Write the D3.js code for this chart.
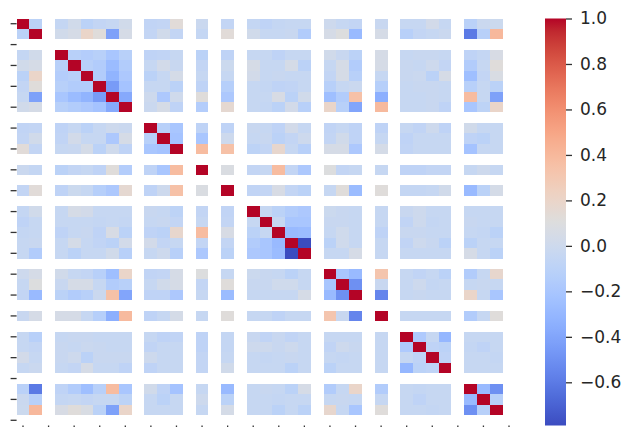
<!DOCTYPE html>
<html>
<head>
<meta charset="utf-8">
<script src="https://cdn.jsdelivr.net/npm/d3@7"></script>
<style>
  html, body { margin: 0; padding: 0; background: #fff; }
  svg { display: block; }
  text { font-family: "DejaVu Sans", sans-serif; }
</style>
</head>
<body>
<svg id="chart" width="624" height="427"></svg>
<script>
// Sizes of the variable groups; each group is followed by one blank separator row/column.
const groupSizes = [2, 6, 3, 1, 1, 5, 3, 1, 4, 3];

// Lower triangle of the correlation matrix (row i holds r(i, j) for j < i); diagonal is 1.
const corrLower = [
  [],
  [-0.10],
  [-0.05, 0.02],
  [0.02, 0.05, -0.12],
  [-0.10, 0.20, -0.14, -0.12],
  [-0.06, 0.12, -0.12, -0.15, -0.15],
  [-0.04, -0.42, -0.20, -0.27, -0.32, -0.45],
  [0.02, 0.05, -0.12, -0.15, -0.18, -0.22, -0.38],
  [-0.07, -0.06, -0.08, -0.04, -0.10, -0.04, 0.00, -0.02],
  [-0.06, 0.02, -0.07, 0.03, -0.04, -0.04, -0.18, 0.05, -0.12],
  [0.13, -0.06, -0.04, -0.03, 0.04, -0.10, 0.01, -0.08, -0.20, -0.22],
  [-0.02, -0.05, -0.10, -0.06, -0.04, -0.08, 0.12, -0.14, -0.08, -0.20, 0.38],
  [-0.06, 0.13, -0.08, -0.01, -0.04, -0.13, -0.18, 0.16, -0.08, 0.00, 0.35, 0.08],
  [-0.05, 0.02, -0.04, 0.05, 0.03, -0.04, -0.04, -0.04, -0.03, -0.04, -0.09, -0.06, -0.07],
  [-0.08, -0.04, -0.04, -0.04, -0.04, -0.05, -0.04, -0.05, -0.04, -0.03, -0.06, -0.04, -0.06, -0.04],
  [-0.05, -0.04, -0.08, -0.04, -0.03, -0.08, 0.06, -0.10, -0.08, -0.10, 0.18, 0.38, 0.06, -0.10, -0.04],
  [-0.04, -0.03, -0.04, 0.04, -0.04, -0.07, -0.10, 0.03, 0.03, -0.06, -0.04, -0.06, -0.06, -0.15, -0.20, -0.28],
  [-0.04, -0.15, -0.04, -0.10, -0.04, -0.04, 0.02, -0.12, -0.04, 0.00, -0.12, -0.18, -0.10, -0.18, -0.20, -0.27, -0.79],
  [0.00, 0.05, 0.02, -0.04, -0.06, -0.12, -0.25, 0.20, -0.07, -0.06, 0.05, 0.10, -0.04, -0.01, -0.03, -0.04, -0.10, -0.04],
  [-0.04, 0.10, -0.03, 0.05, 0.05, -0.04, -0.15, -0.12, -0.04, 0.02, 0.05, -0.06, 0.12, -0.03, -0.03, 0.01, 0.01, -0.04, -0.20],
  [-0.06, -0.28, -0.10, -0.15, -0.12, -0.02, 0.35, -0.40, -0.08, -0.08, -0.18, -0.04, -0.27, -0.04, -0.04, -0.04, -0.04, 0.05, -0.28, -0.50],
  [-0.03, 0.05, 0.05, 0.05, -0.04, -0.13, -0.35, 0.39, -0.08, -0.04, 0.04, -0.04, 0.12, -0.04, -0.04, -0.08, -0.04, -0.04, 0.32, -0.03, -0.55],
  [-0.04, -0.12, -0.04, -0.03, -0.03, -0.04, -0.04, -0.04, -0.04, -0.08, -0.07, -0.08, -0.05, -0.03, -0.07, -0.03, -0.07, -0.04, -0.04, -0.04, -0.04, -0.04],
  [-0.04, -0.06, -0.03, -0.04, -0.02, -0.03, -0.04, -0.04, -0.07, -0.04, -0.04, -0.08, -0.05, 0.00, 0.00, -0.03, 0.00, -0.04, -0.07, 0.00, -0.03, -0.04, -0.17],
  [0.03, -0.04, -0.03, 0.00, -0.10, -0.03, -0.03, -0.03, 0.00, -0.04, -0.04, -0.06, -0.04, -0.04, -0.05, -0.04, -0.03, -0.04, -0.04, -0.05, -0.04, -0.04, -0.04, -0.08],
  [-0.04, -0.02, -0.04, -0.06, 0.05, -0.04, -0.04, -0.08, -0.08, -0.04, -0.04, -0.06, 0.02, -0.04, -0.04, -0.04, -0.10, -0.04, -0.10, -0.04, -0.04, -0.04, -0.30, -0.10, -0.08],
  [-0.11, -0.60, -0.08, -0.15, -0.25, -0.12, 0.38, -0.20, 0.02, -0.08, -0.22, -0.04, -0.28, -0.04, -0.03, -0.04, -0.10, 0.05, -0.15, -0.04, 0.20, -0.15, -0.04, -0.05, -0.04, -0.04],
  [-0.02, -0.12, -0.05, -0.04, -0.06, -0.04, -0.04, -0.09, -0.04, -0.10, -0.04, 0.00, -0.10, -0.04, -0.04, -0.05, -0.04, -0.04, -0.04, -0.03, -0.04, -0.04, -0.04, -0.08, -0.04, -0.04, -0.28],
  [-0.01, 0.40, 0.06, 0.12, 0.07, -0.10, -0.42, 0.20, -0.04, -0.04, -0.04, -0.04, 0.04, -0.04, -0.04, -0.10, -0.04, -0.10, 0.18, -0.04, -0.20, 0.12, -0.04, -0.04, -0.05, -0.04, -0.50, -0.12]
];

// Colour bar tick values
const colorbarTicks = [-0.6, -0.4, -0.2, 0.0, 0.2, 0.4, 0.6, 0.8, 1.0];

// Moreland "cool-warm" diverging colour map control points
const coolwarmStops = [
  [59,76,192],[68,90,204],[77,104,215],[87,117,225],[98,130,234],[108,142,241],
  [119,154,247],[130,165,251],[141,176,254],[152,185,255],[163,194,255],[174,201,253],
  [184,208,249],[194,213,244],[204,217,238],[213,219,230],[221,221,221],[229,216,209],
  [236,211,197],[241,204,184],[245,196,172],[247,187,159],[247,177,147],[247,166,134],
  [244,154,123],[241,141,111],[236,127,99],[229,112,88],[222,96,77],[213,80,66],
  [203,62,56],[192,40,47],[180,4,38]
];

// ---- build the grid of slots (variables + blank separators) ----
const nVars = corrLower.length;
const varNames = d3.range(nVars).map(i => "v" + i);
const slotKeys = [];
{
  let v = 0;
  groupSizes.forEach((n, g) => {
    for (let k = 0; k < n; k++) slotKeys.push(varNames[v++]);
    slotKeys.push("gap" + g);
  });
}
const corr = (i, j) => i === j ? 1 : (i > j ? corrLower[i][j] : corrLower[j][i]);

const cells = [];
varNames.forEach((rv, i) => varNames.forEach((cv, j) => {
  cells.push({ row: rv, col: cv, value: corr(i, j) });
}));

// ---- layout ----
const svg = d3.select("#chart");
const heat = { left: 16.6, right: 515.4, top: 18.5, bottom: 425.5 };
const bar = { left: 545, width: 21 };

const x = d3.scaleBand().domain(slotKeys).range([heat.left, heat.right]).padding(0);
const y = d3.scaleBand().domain(slotKeys).range([heat.top, heat.bottom]).padding(0);

const cwDomain = coolwarmStops.map((_, i) => i / (coolwarmStops.length - 1));
const coolwarm = d3.scaleLinear()
  .domain(cwDomain)
  .range(coolwarmStops.map(c => d3.rgb(c[0], c[1], c[2])))
  .interpolate(d3.interpolateRgb)
  .clamp(true);

const [vmin, vmax] = d3.extent(cells, d => d.value);
const color = d3.scaleSequential(t => coolwarm(t)).domain([vmin, vmax]);

// ---- heatmap cells ----
svg.append("g")
  .selectAll("rect")
  .data(cells)
  .join("rect")
  .attr("x", d => x(d.col))
  .attr("y", d => y(d.row))
  .attr("width", x.bandwidth())
  .attr("height", y.bandwidth())
  .attr("fill", d => color(d.value))
  .attr("shape-rendering", "crispEdges");

// ---- axis ticks (every other slot, labels not shown) ----
const evenSlots = slotKeys.filter((_, i) => i % 2 === 0);
const styleAxis = g => {
  g.select(".domain").remove();
  g.selectAll(".tick line").attr("stroke", "#333").attr("stroke-width", 1.3);
};
svg.append("g")
  .attr("transform", `translate(${heat.left},0)`)
  .call(d3.axisLeft(y).tickValues(evenSlots).tickFormat("").tickSize(6))
  .call(styleAxis);
svg.append("g")
  .attr("transform", `translate(0,${heat.bottom})`)
  .call(d3.axisBottom(x).tickValues(evenSlots).tickFormat("").tickSize(6))
  .call(styleAxis);

// ---- colour bar ----
const cbScale = d3.scaleLinear().domain([vmin, vmax]).range([heat.bottom, heat.top]);
const defs = svg.append("defs");
const grad = defs.append("linearGradient")
  .attr("id", "cbGrad")
  .attr("x1", 0).attr("y1", 1).attr("x2", 0).attr("y2", 0);
d3.range(0, 1.0001, 1 / 64).forEach(t => {
  grad.append("stop").attr("offset", t).attr("stop-color", coolwarm(t));
});
svg.append("rect")
  .attr("x", bar.left)
  .attr("y", heat.top)
  .attr("width", bar.width)
  .attr("height", heat.bottom - heat.top)
  .attr("fill", "url(#cbGrad)");

const cbAxis = svg.append("g")
  .attr("transform", `translate(${bar.left + bar.width},0)`)
  .call(d3.axisRight(cbScale).tickValues(colorbarTicks).tickSize(6).tickPadding(8)
    .tickFormat(d3.format(".1f")));
cbAxis.select(".domain").remove();
cbAxis.selectAll(".tick line").attr("stroke", "#333").attr("stroke-width", 1.3);
cbAxis.selectAll(".tick text")
  .attr("fill", "#262626")
  .style("font-family", "'DejaVu Sans', sans-serif")
  .style("font-size", "17px");
</script>
</body>
</html>
